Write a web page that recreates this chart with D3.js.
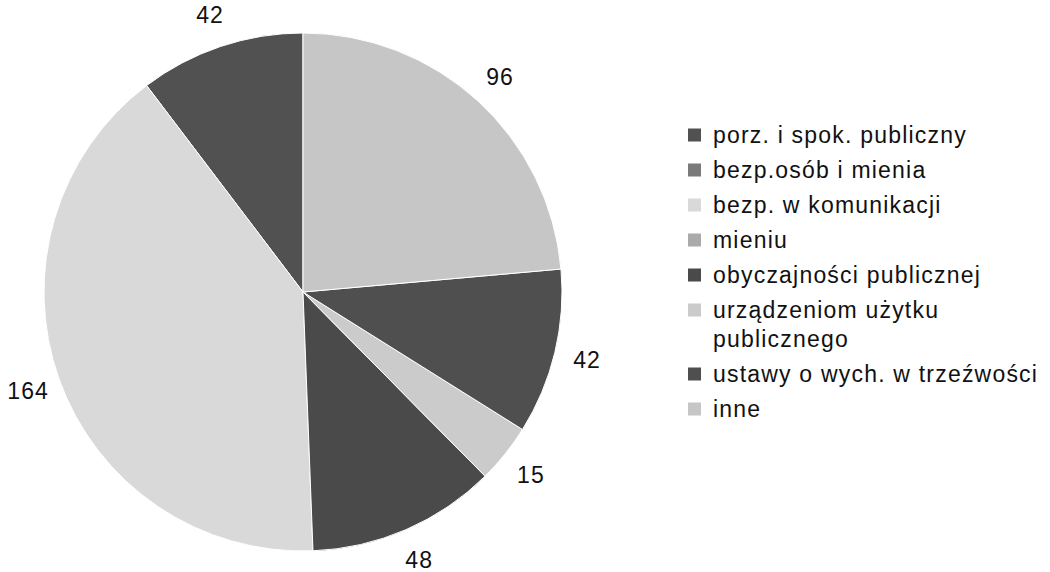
<!DOCTYPE html>
<html>
<head>
<meta charset="utf-8">
<script src="https://cdn.jsdelivr.net/npm/d3@7/dist/d3.min.js"></script>
<style>
  html, body { margin: 0; padding: 0; background: #fff; }
  svg { display: block; }
  text { font-family: "Liberation Sans", Arial, sans-serif; fill: #111; }
</style>
</head>
<body>
<svg id="chart" width="1050" height="572"></svg>
<script>
// ---- data ----
const categories = [
  "porz. i spok. publiczny",
  "bezp.osób i mienia",
  "bezp. w komunikacji",
  "mieniu",
  "obyczajności publicznej",
  "urządzeniom użytku\npublicznego",
  "ustawy o wych. w trzeźwości",
  "inne"
];
const values = [42, 0, 164, 0, 48, 15, 42, 96];
const colors = ["#515151", "#7a7a7a", "#d9d9d9", "#aaaaaa", "#4a4a4a", "#cbcbcb", "#4f4f4f", "#c6c6c6"];

const data = categories.map((c, i) => ({ name: c, value: values[i], color: colors[i] }));

const svg = d3.select("#chart");
const cx = 303, cy = 292, R = 259, labelR = 292;

const pie = d3.pie().value(d => d.value).sort(null)
  .startAngle(0).endAngle(-2 * Math.PI);
const arcs = pie(data).filter(a => a.data.value > 0);

const arc = d3.arc().innerRadius(0).outerRadius(R);
const labelArc = d3.arc().innerRadius(labelR).outerRadius(labelR);

const g = svg.append("g").attr("transform", `translate(${cx},${cy})`);

g.selectAll("path.slice").data(arcs).join("path")
  .attr("class", "slice")
  .attr("d", arc)
  .attr("fill", d => d.data.color)
  .attr("stroke", "#ffffff")
  .attr("stroke-width", 1);

g.selectAll("text.lbl").data(arcs).join("text")
  .attr("class", "lbl")
  .attr("transform", d => `translate(${labelArc.centroid(d)})`)
  .attr("text-anchor", "middle")
  .attr("dy", "0.36em")
  .style("font-size", "23px")
  .style("letter-spacing", "1px")
  .text(d => d.data.value);

// ---- legend ----
const legend = svg.append("g").attr("transform", "translate(688,135)");
const rowH = 35, wrapH = 29;
let y = 0;
data.forEach(d => {
  const lines = d.name.split("\n");
  const item = legend.append("g").attr("transform", `translate(0,${y})`);
  item.append("rect")
    .attr("x", 0).attr("y", -6.5)
    .attr("width", 13).attr("height", 13)
    .attr("fill", d.color);
  const t = item.append("text")
    .attr("x", 25)
    .style("font-size", "23px")
    .style("letter-spacing", "1.2px");
  lines.forEach((ln, j) => {
    t.append("tspan").attr("x", 25).attr("y", j * wrapH).attr("dy", "0.36em").text(ln);
  });
  y += rowH + (lines.length - 1) * wrapH;
});
</script>
</body>
</html>
